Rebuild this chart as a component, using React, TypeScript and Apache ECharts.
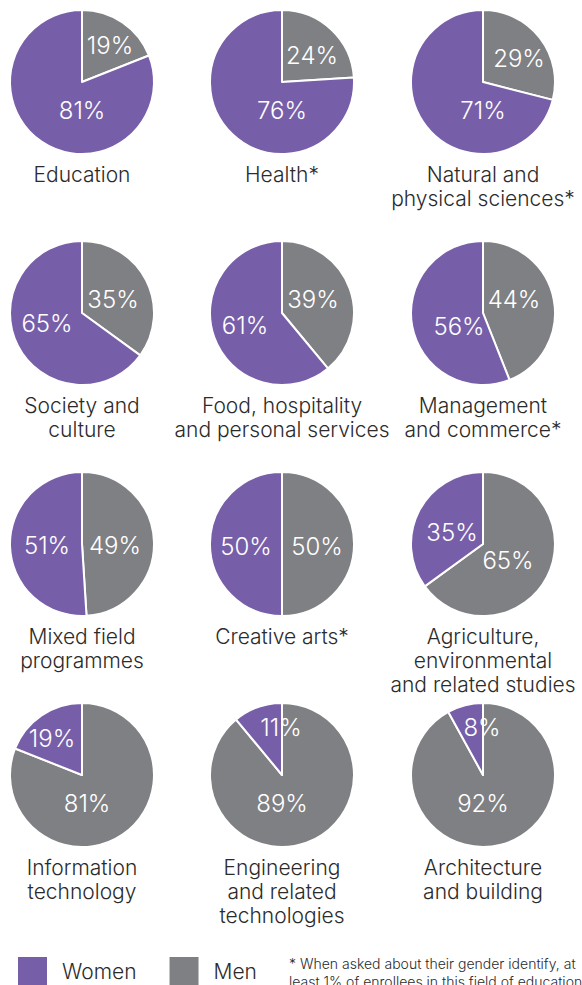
import React, { useEffect, useRef } from "react";
import * as echarts from "echarts";

const categories = [
  "Education",
  "Health*",
  "Natural and\nphysical sciences*",
  "Society and\nculture",
  "Food, hospitality\nand personal services",
  "Management\nand commerce*",
  "Mixed field\nprogrammes",
  "Creative arts*",
  "Agriculture,\nenvironmental\nand related studies",
  "Information\ntechnology",
  "Engineering\nand related\ntechnologies",
  "Architecture\nand building",
];
const menShare = [19, 24, 29, 35, 39, 44, 49, 50, 65, 81, 89, 92];
const womenShare = [81, 76, 71, 65, 61, 56, 51, 50, 35, 19, 11, 8];
const legendNames = ["Women", "Men"];
const footnote =
  "* When asked about their gender identify, at\nleast 1% of enrollees in this field of education";

// layout (pixels)
const COLS = [82, 282, 483];
const ROWS = [82, 313, 544, 775];
const RADIUS = 72;
// label offsets relative to each pie centre: [men, women]
const LABEL_OFFSETS: number[][][] = [
  [[28, -37], [0, 28]],
  [[30, -27], [0, 28]],
  [[36, -24], [0, 28]],
  [[31, -14], [-35, 10]],
  [[31, -14], [-37, 12]],
  [[31, -14], [-24, 13]],
  [[33, 1], [-35, 1]],
  [[35, 2], [-36, 2]],
  [[25, 16], [-31, -12]],
  [[5, 28], [-30, -37]],
  [[0, 28], [-1, -48]],
  [[0, 28], [-1, -48]],
];

const PURPLE = "#775EA9";
const GREY = "#7F8083";
const TEXT = "#2b2b2b";
const FONT = "Inter, Roboto, sans-serif";

export default function App() {
  const ref = useRef<HTMLDivElement>(null);
  useEffect(() => {
    document.body.style.margin = "0";
    const chart = echarts.init(ref.current!, null, { renderer: "svg" });
    const centers = categories.map((_, i) => [COLS[i % 3], ROWS[Math.floor(i / 3)]]);
    const series = categories.map((name, i) => ({
      type: "pie",
      name,
      center: centers[i],
      radius: RADIUS,
      startAngle: 90,
      clockwise: true,
      silent: true,
      itemStyle: { borderColor: "#fff", borderWidth: 2 },
      label: {
        show: true,
        position: "inside",
        formatter: "{c}%",
        color: "#fff",
        fontSize: 24,
        fontWeight: 300,
        fontFamily: FONT,
      },
      labelLine: { show: false },
      labelLayout: (p: any) => {
        const off = LABEL_OFFSETS[p.seriesIndex][p.dataIndex];
        const c = centers[p.seriesIndex];
        return { x: c[0] + off[0], y: c[1] + off[1], align: "center", verticalAlign: "middle" };
      },
      data: [
        { name: "Men", value: menShare[i], itemStyle: { color: GREY } },
        { name: "Women", value: womenShare[i], itemStyle: { color: PURPLE } },
      ],
    }));
    const titles = categories.map((name, i) => ({
      text: name,
      left: centers[i][0],
      top: centers[i][1] + 80,
      padding: 0,
      textAlign: "center",
      textStyle: {
        fontSize: 21,
        lineHeight: 24,
        fontWeight: 300,
        color: TEXT,
        fontFamily: FONT,
      },
    }));
    chart.setOption({
      animation: false,
      title: titles,
      legend: {
        data: legendNames,
        left: 16,
        top: 955,
        padding: 0,
        icon: "rect",
        itemWidth: 31,
        itemHeight: 30,
        itemGap: 31,
        selectedMode: false,
        textStyle: { fontSize: 21, fontWeight: 300, color: TEXT, fontFamily: FONT, padding: [0, 0, 0, 9] },
      },
      graphic: [
        {
          type: "text",
          left: 289,
          top: 954,
          style: { text: footnote, fontSize: 14, fontWeight: 300, lineHeight: 18, fill: TEXT, fontFamily: FONT },
        },
      ],
      series,
    });
    return () => chart.dispose();
  }, []);
  return <div ref={ref} style={{ width: 582, height: 985 }} />;
}
